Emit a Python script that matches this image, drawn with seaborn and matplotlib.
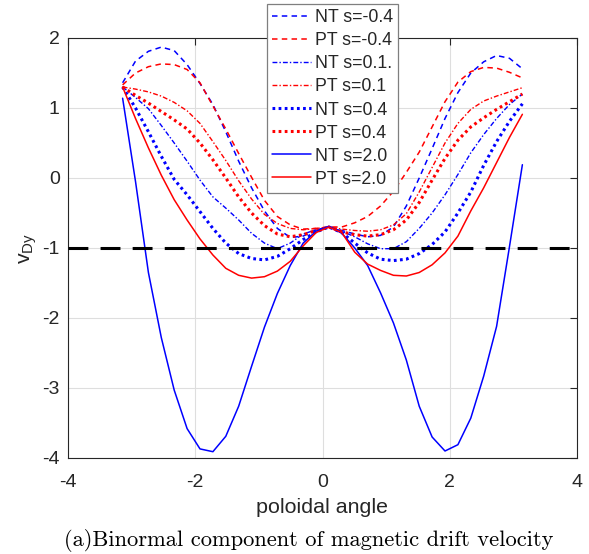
import numpy as np
import pandas as pd
import matplotlib
matplotlib.use("Agg")
import matplotlib.pyplot as plt
import seaborn as sns

# ---------------- data ----------------
theta = np.linspace(-np.pi, np.pi, 32)

nt_m04 = [1.36, 1.67, 1.81, 1.87, 1.82, 1.62, 1.35, 1.05, 0.66, 0.24, -0.14, -0.47, -0.72, -0.85, -0.83, -0.74,
          -0.70, -0.75, -0.80, -0.84, -0.82, -0.70, -0.40, 0.00, 0.42, 0.85, 1.22, 1.50, 1.66, 1.75, 1.71, 1.56]
pt_m04 = [1.33, 1.50, 1.59, 1.63, 1.62, 1.55, 1.36, 1.03, 0.70, 0.35, 0.01, -0.32, -0.55, -0.67, -0.73, -0.72,
          -0.70, -0.70, -0.64, -0.55, -0.40, -0.19, 0.08, 0.37, 0.73, 1.09, 1.37, 1.52, 1.58, 1.57, 1.51, 1.43]
nt_01 = [1.30, 1.15, 0.99, 0.75, 0.50, 0.24, -0.03, -0.27, -0.43, -0.60, -0.79, -0.93, -1.01, -0.93, -0.80, -0.74,
         -0.70, -0.76, -0.84, -0.94, -1.01, -1.01, -0.91, -0.72, -0.50, -0.24, 0.05, 0.36, 0.62, 0.85, 1.05, 1.20]
pt_01 = [1.30, 1.27, 1.23, 1.17, 1.08, 0.96, 0.78, 0.52, 0.25, -0.04, -0.30, -0.52, -0.65, -0.72, -0.74, -0.72,
         -0.70, -0.73, -0.75, -0.76, -0.74, -0.67, -0.51, -0.20, 0.15, 0.50, 0.78, 0.98, 1.10, 1.17, 1.23, 1.29]
nt_04 = [1.30, 1.00, 0.66, 0.31, -0.02, -0.24, -0.48, -0.72, -0.93, -1.08, -1.15, -1.17, -1.12, -1.01, -0.88, -0.77,
         -0.70, -0.78, -0.93, -1.07, -1.16, -1.18, -1.16, -1.08, -0.95, -0.77, -0.50, -0.20, 0.18, 0.52, 0.81, 1.06]
pt_04 = [1.30, 1.18, 1.07, 0.95, 0.83, 0.70, 0.50, 0.26, 0.00, -0.27, -0.50, -0.68, -0.80, -0.84, -0.81, -0.75,
         -0.70, -0.77, -0.81, -0.83, -0.81, -0.74, -0.60, -0.35, -0.03, 0.28, 0.54, 0.73, 0.86, 0.98, 1.09, 1.20]
nt_20 = [1.14, -0.05, -1.35, -2.28, -3.03, -3.58, -3.87, -3.91, -3.69, -3.26, -2.69, -2.13, -1.65, -1.25, -0.93, -0.76,
         -0.69, -0.79, -1.00, -1.25, -1.64, -2.07, -2.60, -3.26, -3.70, -3.90, -3.81, -3.43, -2.83, -2.12, -0.98, 0.19]
pt_20 = [1.30, 0.85, 0.43, 0.04, -0.31, -0.60, -0.87, -1.10, -1.29, -1.39, -1.43, -1.41, -1.33, -1.19, -0.97, -0.78,
         -0.70, -0.78, -1.06, -1.23, -1.32, -1.39, -1.40, -1.35, -1.24, -1.07, -0.83, -0.47, -0.14, 0.22, 0.58, 0.91]

labels = ["NT s=-0.4", "PT s=-0.4", "NT s=0.1.", "PT s=0.1",
          "NT s=0.4", "PT s=0.4", "NT s=2.0", "PT s=2.0"]
series = [nt_m04, pt_m04, nt_01, pt_01, nt_04, pt_04, nt_20, pt_20]
threshold = -1.0

xticks = [-4, -2, 0, 2, 4]
yticks = [-4, -3, -2, -1, 0, 1, 2]
xlabel = "poloidal angle"
ylabel = r"$\mathregular{v_{Dy}}$"
caption = "(a)Binormal component of magnetic drift velocity"

# ---------------- styles ----------------
BLUE, RED = (0, 0, 1), (1, 0, 0)
dashed = (0, (3.6, 2.8))
dashdot = (0, (3.5, 1.5, 1.0, 1.5))
dotted = (0, (0.9, 1.1))
line_styles = [
    (BLUE, dashed, 1.1), (RED, dashed, 1.1),
    (BLUE, dashdot, 1.0), (RED, dashdot, 1.0),
    (BLUE, dotted, 2.2), (RED, dotted, 2.2),
    (BLUE, "-", 1.1), (RED, "-", 1.1),
]

sns.set_theme(style="white")
plt.rcParams["font.family"] = ["Liberation Sans", "DejaVu Sans"]
plt.rcParams["mathtext.fontset"] = "custom"
plt.rcParams["mathtext.rm"] = "Liberation Sans"
plt.rcParams["mathtext.it"] = "Liberation Sans"
plt.rcParams["axes.unicode_minus"] = False

df = pd.DataFrame({
    "theta": np.tile(theta, len(labels)),
    "v": np.concatenate([np.asarray(s, float) for s in series]),
    "case": np.repeat(labels, len(theta)),
})

W, H = 589, 554
fig = plt.figure(figsize=(W / 100, H / 100), dpi=100)
ax = fig.add_axes([68 / W, 1 - 458 / H, 509 / W, 420 / H])

for lab, (color, ls, lw) in zip(labels, line_styles):
    sub = df[df["case"] == lab]
    sns.lineplot(data=sub, x="theta", y="v", ax=ax, color=color, linestyle=ls,
                 linewidth=lw, label=lab, sort=False, errorbar=None, legend=False)

ax.axhline(threshold, color="black", linewidth=2.2, linestyle=(0, (6.5, 4.0)), zorder=5)

ax.set_xlim(-4, 4)
ax.set_ylim(-4, 2)
ax.set_xticks(xticks)
ax.set_yticks(yticks)
ax.grid(True, color="#dedede", linewidth=0.8)
ax.set_axisbelow(True)
for sp in ax.spines.values():
    sp.set_color("#262626")
    sp.set_linewidth(0.8)
ax.tick_params(direction="in", top=True, right=True, length=5, width=0.8,
               color="#262626", labelcolor="#262626", labelsize=14)
ax.tick_params(axis="x", pad=11.5)
ax.tick_params(axis="y", pad=6)
ax.set_xlabel(xlabel, fontsize=15.4, color="#262626", labelpad=5)
ax.set_ylabel(ylabel, fontsize=15.4, color="#262626", labelpad=2)

handles, labs = ax.get_legend_handles_labels()
leg = ax.legend(handles, labs, loc="upper left",
                bbox_to_anchor=(267 / W, 1 - 4 / H), bbox_transform=fig.transFigure,
                borderaxespad=0, fontsize=12.8, handlelength=2.2, handletextpad=0.2,
                labelspacing=0.34, borderpad=0.3, frameon=True, fancybox=False)
leg.get_frame().set_edgecolor("#7f7f7f")
leg.get_frame().set_linewidth(0.9)
leg.get_frame().set_facecolor("white")
leg.get_frame().set_alpha(1)
leg.set_zorder(10)

fig.text(308.5 / W, 1 - 541 / H, caption, ha="center", va="center",
         fontfamily="cmr10", fontsize=16.2, color="black")

fig.savefig("out.png", dpi=100)
